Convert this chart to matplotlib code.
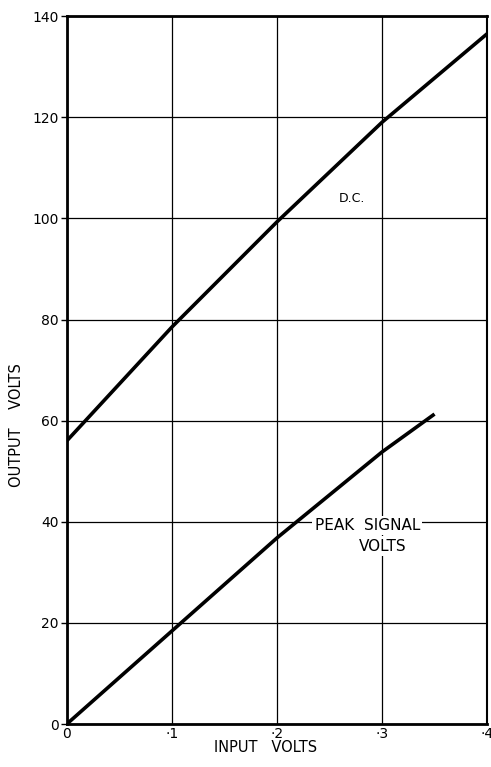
import matplotlib
matplotlib.use("Agg")
import matplotlib.pyplot as plt

# Output voltage versus input voltage
input_dc = [0.0, 0.1, 0.2, 0.3, 0.4]
output_dc = [56, 78.5, 99.3, 119, 136.5]

input_peak = [0.0, 0.1, 0.2, 0.3, 0.35]
output_peak = [0, 18.4, 36.8, 53.8, 61.3]

x_ticks = [0.0, 0.1, 0.2, 0.3, 0.4]
x_tick_labels = ["0", "·1", "·2", "·3", "·4"]
y_ticks = [0, 20, 40, 60, 80, 100, 120, 140]
y_tick_labels = ["0", "20", "40", "60", "80", "100", "120", "140"]

plt.rcParams["font.family"] = ["DejaVu Sans"]

fig = plt.figure(figsize=(4.91, 7.67), dpi=100)
ax = fig.add_axes([0.136, 0.056, 0.856, 0.923])

ax.set_xlim(0, 0.4)
ax.set_ylim(0, 140)
ax.set_xticks(x_ticks)
ax.set_xticklabels(x_tick_labels)
ax.set_yticks(y_ticks)
ax.set_yticklabels(y_tick_labels)

ax.grid(True, color="black", linewidth=0.9)
ax.set_axisbelow(True)

for side in ["left", "bottom", "top"]:
    ax.spines[side].set_linewidth(2.0)
ax.spines["right"].set_linewidth(1.5)

ax.tick_params(axis="y", length=4, width=1, direction="out", labelsize=10, pad=2)
ax.tick_params(axis="x", length=0, labelsize=10, pad=2)

ax.plot(input_dc, output_dc, color="black", linewidth=2.6,
        solid_capstyle="butt", solid_joinstyle="round", zorder=3)
ax.plot(input_peak, output_peak, color="black", linewidth=2.6,
        solid_capstyle="butt", solid_joinstyle="round", zorder=3)

ax.text(0.271, 104, "D.C.", fontsize=9, ha="center", va="center", zorder=4)
ax.text(0.286, 39.2, "PEAK  SIGNAL", fontsize=11, ha="center", va="center", zorder=4,
        bbox=dict(facecolor="white", edgecolor="none", pad=1.5))
ax.text(0.301, 35.2, "VOLTS", fontsize=11, ha="center", va="center", zorder=4,
        bbox=dict(facecolor="white", edgecolor="none", pad=1.5))

fig.text(266 / 491, 1 - 748 / 767, "INPUT   VOLTS", fontsize=10.5,
         ha="center", va="center")
fig.text(17 / 491, 1 - 425 / 767, "OUTPUT    VOLTS", fontsize=10.5,
         ha="center", va="center", rotation=90)

fig.savefig("out.png", dpi=100, facecolor="white")
